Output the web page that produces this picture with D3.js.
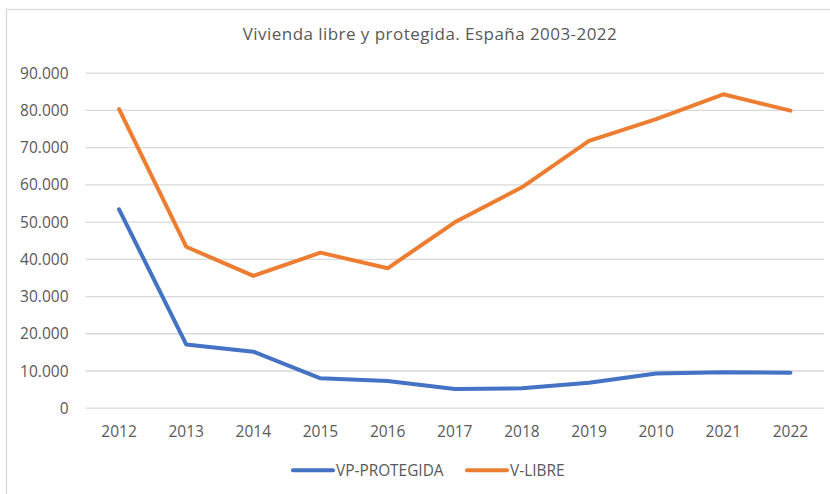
<!DOCTYPE html>
<html><head><meta charset="utf-8">
<script src="https://cdn.jsdelivr.net/npm/d3@7"></script>
<style>body{margin:0;background:#fff}svg{display:block}text{font-family:"Open Sans",sans-serif;fill:#595959}</style>
</head><body>
<script>
const categories = ["2012","2013","2014","2015","2016","2017","2018","2019","2010","2021","2022"];
const vpProtegida = [53300,17000,15050,7900,7150,5000,5200,6700,9200,9550,9400];
const vLibre = [80200,43250,35400,41650,37450,49800,59200,71700,77550,84200,79800];
const yTicks = [0,10000,20000,30000,40000,50000,60000,70000,80000,90000];
const seriesNames = ["VP-PROTEGIDA","V-LIBRE"];
const seriesColors = ["#4472C4","#ED7D31"];

const W=830,H=494;
const svg=d3.select("body").append("svg").attr("width",W).attr("height",H);
svg.append("rect").attr("x",6.5).attr("y",9.5).attr("width",W).attr("height",H).attr("fill","none").attr("stroke","#d9d9d9").attr("stroke-width",1.3);

const x=d3.scaleBand().domain(categories).range([85.5,824]);
const y=d3.scaleLinear().domain([0,90000]).range([407.7,72.7]);
const fmt=v=>d3.format(",")(v).replace(/,/g,".");

svg.append("text").attr("x",430).attr("y",40).attr("text-anchor","middle").style("font-size","17px").style("letter-spacing","0.45px").text("Vivienda libre y protegida. España 2003-2022");

const grid=svg.append("g").attr("transform","translate(85.5,0)").call(d3.axisLeft(y).tickValues(yTicks).tickSize(-(824-85.5)).tickFormat(fmt));
grid.select(".domain").remove();
grid.selectAll(".tick line").attr("stroke","#d9d9d9").attr("stroke-width",1.3);
grid.selectAll(".tick text").attr("x",-17).attr("dy","0.36em").style("font-size","15.5px").attr("fill","#595959");

const xa=svg.append("g").attr("transform","translate(0,407.7)").call(d3.axisBottom(x).tickSize(0));
xa.select(".domain").remove();
xa.selectAll(".tick text").attr("y",18).attr("dy","0.71em").style("font-size","15.5px").attr("fill","#595959");

const line=d3.line().x((d,i)=>x(categories[i])+x.bandwidth()/2).y(d=>y(d));
[vpProtegida,vLibre].forEach((s,k)=>{
  svg.append("path").datum(s).attr("d",line).attr("fill","none").attr("stroke",seriesColors[k]).attr("stroke-width",4).attr("stroke-linejoin","round").attr("stroke-linecap","round");
});

const legX=[293,467];
seriesNames.forEach((n,k)=>{
  svg.append("line").attr("x1",legX[k]).attr("x2",legX[k]+40).attr("y1",470.3).attr("y2",470.3).attr("stroke",seriesColors[k]).attr("stroke-width",4).attr("stroke-linecap","round");
  svg.append("text").attr("x",legX[k]+43).attr("y",470.3).attr("dy","0.36em").style("font-size","15.4px").text(n);
});
</script>
</body></html>
